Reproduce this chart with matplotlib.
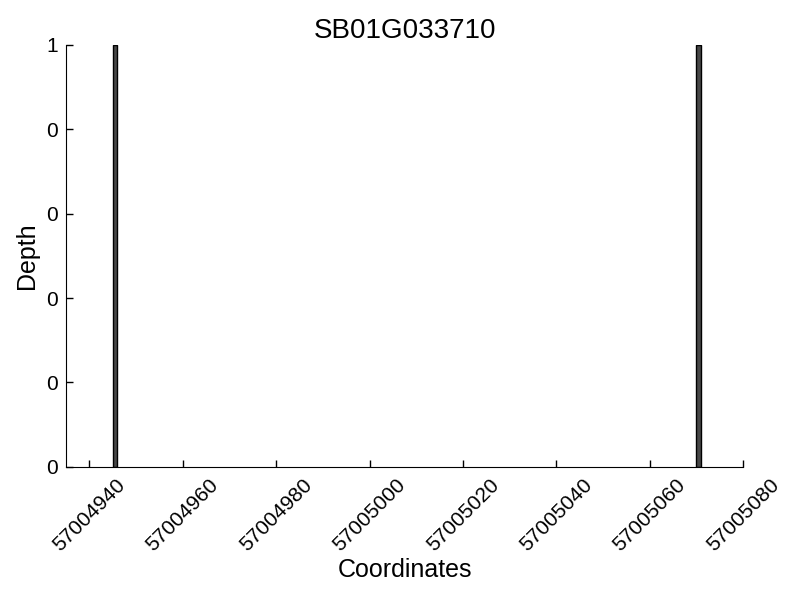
import matplotlib
matplotlib.use("Agg")
import matplotlib.pyplot as plt
from matplotlib.ticker import FormatStrFormatter

plt.rcParams['font.family'] = ['Liberation Sans', 'DejaVu Sans']

title = "SB01G033710"
positions = [57004945, 57005070]
depths = [1, 1]
xticks = [57004940, 57004960, 57004980, 57005000, 57005020, 57005040, 57005060, 57005080]
yticks = [0, 0.2, 0.4, 0.6, 0.8, 1.0]

fig = plt.figure(figsize=(8, 6), dpi=100)
ax = fig.add_axes([0.0825, 0.222, 0.8465, 0.703])
ax.bar(positions, depths, width=1, align='edge', color='#474747', edgecolor='black', linewidth=1)
ax.set_xlim(57004935, 57005080)
ax.set_ylim(0, 1)
ax.set_xticks(xticks)
ax.set_xticklabels([str(t) for t in xticks], rotation=45, ha='center', fontsize=15)
ax.set_yticks(yticks)
ax.yaxis.set_major_formatter(FormatStrFormatter('%d'))
ax.tick_params(axis='y', labelsize=15, pad=6)
ax.tick_params(axis='x', pad=6)
ax.tick_params(direction='in', length=5, width=1)
ax.spines['top'].set_visible(False)
ax.spines['right'].set_visible(False)
ax.set_title(title, fontsize=20, pad=5)
ax.set_xlabel("Coordinates", fontsize=18, labelpad=2)
ax.set_ylabel("Depth", fontsize=18, labelpad=5)
fig.savefig("out.png", dpi=100)
